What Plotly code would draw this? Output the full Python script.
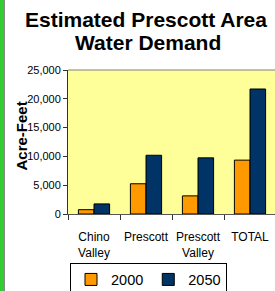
import plotly.graph_objects as go

categories = ["Chino<br>Valley", "Prescott", "Prescott<br>Valley", "TOTAL"]
series_names = ["2000", "2050"]
values_2000 = [750, 5250, 3150, 9350]
values_2050 = [1750, 10200, 9750, 21700]
y_ticks = [0, 5000, 10000, 15000, 20000, 25000]
title_lines = ["Estimated Prescott Area", "Water Demand"]
y_title = "Acre-Feet"

W, H = 275, 291
ML, MT, MB, MR = 68, 70, 77, 0
PW, PH = W - ML - MR, H - MT - MB
FONT = "Arial, Liberation Sans, sans-serif"

def px_x(x):
    return (x - ML) / PW

def px_y(y):
    return (MT + PH - y) / PH

fig = go.Figure()
fig.add_trace(go.Bar(x=categories, y=values_2000, name=series_names[0],
                     marker=dict(color="#FF9900", line=dict(color="#000000", width=1))))
fig.add_trace(go.Bar(x=categories, y=values_2050, name=series_names[1],
                     marker=dict(color="#003366", line=dict(color="#000000", width=1))))

fig.update_layout(
    width=W, height=H,
    margin=dict(l=ML, r=MR, t=MT, b=MB, autoexpand=False),
    paper_bgcolor="white",
    plot_bgcolor="#FFFF99",
    barmode="group",
    bargap=0.4,
    bargroupgap=0,
    font=dict(family=FONT, color="black"),
    showlegend=True,
    legend=dict(orientation="h", x=px_x(70), y=px_y(279.5), xanchor="left", yanchor="middle",
                bordercolor="black", borderwidth=1, bgcolor="white",
                font=dict(size=14.5, family=FONT), itemwidth=30, tracegroupgap=0),
    xaxis=dict(range=[-0.5, -0.5 + PW / 52.0], tickson="boundaries", ticks="outside",
               ticklen=5, tickcolor="#333333", showline=True, linecolor="#555555",
               linewidth=1, tickfont=dict(size=12), ticklabelstandoff=12, tickangle=0,
               showgrid=False, fixedrange=True),
    yaxis=dict(range=[0, 25000], tickvals=y_ticks, tickformat=",", ticks="outside",
               ticklen=4, tickcolor="#333333", showline=True, linecolor="#333333",
               linewidth=1, tickfont=dict(size=11), showgrid=False, zeroline=False,
               fixedrange=True),
    shapes=[
        dict(type="line", xref="paper", yref="paper", x0=0, x1=1, y0=1, y1=1,
             line=dict(color="#808080", width=1)),
        dict(type="rect", xref="paper", yref="paper", x0=px_x(0), x1=px_x(4),
             y0=px_y(H), y1=px_y(0), fillcolor="#33CC33", line=dict(width=0), layer="below"),
        dict(type="line", xref="paper", yref="paper", x0=px_x(4.5), x1=px_x(4.5),
             y0=px_y(H), y1=px_y(0), line=dict(color="#888888", width=1)),
    ],
    annotations=[
        dict(text="<b>%s</b>" % title_lines[0], xref="paper", yref="paper",
             x=px_x(146), y=px_y(19.5), xanchor="center", yanchor="middle",
             showarrow=False, font=dict(size=21, family=FONT)),
        dict(text="<b>%s</b>" % title_lines[1], xref="paper", yref="paper",
             x=px_x(148), y=px_y(42.5), xanchor="center", yanchor="middle",
             showarrow=False, font=dict(size=21, family=FONT)),
        dict(text="<b>%s</b>" % y_title, xref="paper", yref="paper", textangle=-90,
             x=px_x(21), y=px_y(136.5), xanchor="center", yanchor="middle",
             showarrow=False, font=dict(size=15, family=FONT)),
    ],
)

fig.write_html("out.html", config={"displayModeBar": False},
               post_script="document.body.style.margin='0';document.body.style.overflow='hidden';")
